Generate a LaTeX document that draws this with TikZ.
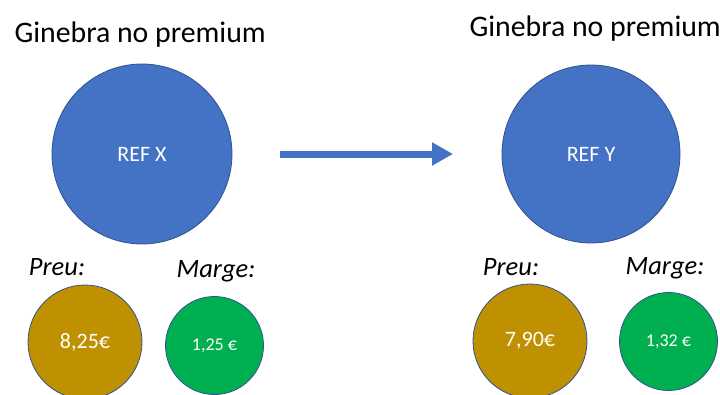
\documentclass[tikz,border=0pt]{standalone}
\usepackage{fontspec}
\setmainfont{Carlito}
\usetikzlibrary{arrows.meta}
\definecolor{refblue}{HTML}{4472C4}
\definecolor{edgeblue}{HTML}{2F528F}
\definecolor{preugold}{HTML}{BF9000}
\definecolor{margegreen}{HTML}{00B050}
\begin{document}
\begin{tikzpicture}[x=1pt, y=-1pt,
    bol/.style={circle, draw=edgeblue, line width=0.8pt, inner sep=0pt, text=white},
    titol/.style={font=\fontsize{29.8}{35}\selectfont, anchor=base west},
    etiq/.style={font=\fontsize{26.5}{31}\selectfont\itshape, anchor=base}]
    \useasboundingbox (0,0) rectangle (720,394);

    \node[titol] (tit1) at (11, 42) {Ginebra no premium};
    \node[titol] (tit2) at (466, 36) {Ginebra no premium};

    \node[bol, fill=refblue, minimum size=180pt, font=\fontsize{22}{26}\selectfont] (refx) at (142, 154) {REF X};
    \node[bol, fill=refblue, minimum size=178pt, font=\fontsize{22}{26}\selectfont] (refy) at (591, 154) {REF Y};

    \node[etiq] (preu1) at (57, 275) {Preu:};
    \node[etiq] (marge1) at (216, 277) {Marge:};
    \node[etiq] (preu2) at (511, 275) {Preu:};
    \node[etiq] (marge2) at (665, 274) {Marge:};

    \node[bol, fill=preugold, minimum size=114pt, font=\fontsize{22}{26}\selectfont] (preux) at (85, 342) {8,25€};
    \node[bol, fill=margegreen, minimum size=98pt, font=\fontsize{18}{22}\selectfont] (margex) at (214.5, 345.5) {1,25 €};
    \node[bol, fill=preugold, minimum size=114pt, font=\fontsize{22}{26}\selectfont] (preuy) at (530, 341) {7,90€};
    \node[bol, fill=margegreen, minimum size=98pt, font=\fontsize{18}{22}\selectfont] (margey) at (668.5, 341.5) {1,32 €};

    \coordinate (ini) at (280, 154);
    \coordinate (fi) at (453, 154);
    \draw[refblue, line width=7pt, -{Triangle[length=21pt, width=22pt]}] (ini) -- (fi);
\end{tikzpicture}
\end{document}
